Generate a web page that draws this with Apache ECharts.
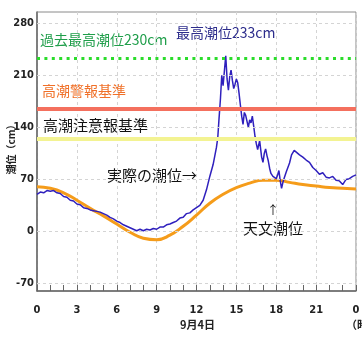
<!DOCTYPE html>
<html>
<head>
<meta charset="utf-8">
<script src="https://cdn.jsdelivr.net/npm/echarts@6/dist/echarts.min.js"></script>
<style>
  html, body { margin: 0; padding: 0; background: #fff; }
  #chart { width: 362px; height: 338px; }
</style>
</head>
<body>
<div id="chart"></div>
<script>
// astronomical tide (hourly)
var astroHours = [0, 1, 2, 3, 4, 5, 6, 7, 8, 9, 10, 11, 12, 13, 14, 15, 16, 17, 18, 19, 20, 21, 22, 23, 24];
var astroLevels = [60, 58, 52, 42, 31, 21, 10, -1, -9, -11, -5, 7, 22, 38, 50, 59, 65, 69, 69, 66, 63, 61, 59, 58, 57];

// observed tide
var actualHours = [
  0, 0.25, 0.5, 0.75, 1, 1.25, 1.5, 1.75, 2, 2.25, 2.5, 2.75, 3, 3.25, 3.5, 3.75,
  4, 4.25, 4.5, 4.75, 5, 5.25, 5.5, 5.75, 6, 6.25, 6.5, 6.75, 7, 7.25, 7.5, 7.75,
  8, 8.25, 8.5, 8.75, 9, 9.25, 9.5, 9.75, 10, 10.25, 10.5, 10.75, 11, 11.25, 11.5, 11.75,
  12, 12.25, 12.5, 12.75, 13, 13.25, 13.5, 13.6, 13.7, 13.8, 13.9, 14, 14.1, 14.2,
  14.3, 14.4, 14.5, 14.6, 14.7, 14.8, 14.9, 15, 15.1, 15.2, 15.3, 15.4, 15.5, 15.6,
  15.7, 15.8, 15.9, 16, 16.1, 16.2, 16.3, 16.4, 16.5, 16.6, 16.75, 16.9, 17, 17.1,
  17.2, 17.3, 17.4, 17.5, 17.6, 17.75, 18, 18.1, 18.2, 18.3, 18.4, 18.5, 18.6, 18.75,
  19, 19.15, 19.35, 19.5, 19.75, 20, 20.25, 20.5, 20.75, 21, 21.25, 21.5, 21.75,
  22, 22.25, 22.5, 22.75, 23, 23.25, 23.5, 23.75, 24
];
var actualLevels = [
  50, 53, 52, 55, 54, 55, 52, 51, 47, 46, 42, 41, 37, 36, 32, 31,
  29, 28, 27, 26, 24, 22, 19, 17, 14, 12, 9, 7, 5, 3, 1, 3,
  1, 3, 2, 4, 3, 6, 6, 9, 10, 12, 14, 18, 19, 24, 25, 29,
  32, 35, 42, 56, 74, 90, 113, 126, 153, 178, 210, 196, 216, 236,
  205, 190, 208, 217, 203, 192, 198, 205, 200, 186, 170, 155, 144, 160,
  156, 148, 140, 150, 146, 155, 142, 128, 118, 110, 122, 100, 93, 105,
  111, 102, 95, 85, 78, 74, 71, 76, 82, 68, 58, 66, 72, 80,
  92, 103, 109, 107, 103, 100, 96, 93, 86, 82, 77, 79, 73,
  72, 74, 69, 68, 63, 70, 71, 74, 76
];

var gridLevels = [-70, 0, 70, 140, 210, 280];
var recordLevel = 233;    // 過去最高潮位
var warningLevel = 165;   // 高潮警報基準
var advisoryLevel = 124;  // 高潮注意報基準

var cjk = '"Noto Sans CJK JP", "Noto Sans", sans-serif';
var num = '"DejaVu Sans Condensed", "Liberation Sans Narrow", "DejaVu Sans", sans-serif';

function pairs(xs, ys) {
  return xs.map(function (x, i) { return [x, ys[i]]; });
}

var chart = echarts.init(document.getElementById('chart'));

chart.setOption({
  animation: false,
  backgroundColor: '#fff',
  grid: {
    left: 37, right: 6, top: 12, bottom: 47,
    containLabel: false, outerBoundsMode: 'none',
    show: true, borderColor: '#8a8a8a', borderWidth: 1
  },
  xAxis: {
    type: 'value', min: 0, max: 24, interval: 3,
    axisLine: { show: true, onZero: false, lineStyle: { color: '#666', width: 1.5 } },
    axisTick: { show: true, inside: true, length: 6, lineStyle: { color: '#666' } },
    minorTick: { show: true, splitNumber: 3, length: 6, lineStyle: { color: '#666' } },
    axisLabel: {
      margin: 14, color: '#222', fontFamily: num, fontWeight: 'bold', fontSize: 11,
      formatter: function (v) { return v === 24 ? '0' : String(v); }
    },
    splitLine: { show: true, lineStyle: { color: '#d4d4d4', type: [3, 3] } }
  },
  yAxis: {
    type: 'value', min: -80, max: 295,
    axisLine: { show: true, lineStyle: { color: '#666', width: 1.5 } },
    axisTick: { show: false },
    axisLabel: {
      customValues: gridLevels, margin: 3, hideOverlap: false,
      color: '#222', fontFamily: num, fontWeight: 'bold', fontSize: 11
    },
    splitLine: { show: false }
  },
  series: [
    {
      type: 'line', data: [], silent: true, z: 1,
      markLine: {
        silent: true, symbol: 'none', label: { show: false },
        lineStyle: { color: '#d4d4d4', type: [3, 3], width: 1 },
        data: gridLevels.map(function (v) { return { yAxis: v }; })
      }
    },
    {
      type: 'line', data: [], silent: true, z: 2,
      markLine: {
        silent: true, symbol: 'none', label: { show: false },
        data: [
          { yAxis: recordLevel, lineStyle: { color: '#2bdc2b', width: 3, type: [3, 4.4] } },
          { yAxis: warningLevel, lineStyle: { color: '#f4705e', width: 4, type: 'solid' } },
          { yAxis: advisoryLevel, lineStyle: { color: '#f3f392', width: 4, type: 'solid' } }
        ]
      }
    },
    {
      name: '天文潮位', type: 'line', z: 3,
      data: pairs(astroHours, astroLevels),
      smooth: true, showSymbol: false,
      lineStyle: { color: '#f59c1a', width: 3 }
    },
    {
      name: '実際の潮位', type: 'line', z: 4,
      data: pairs(actualHours, actualLevels),
      showSymbol: false,
      lineStyle: { color: '#2f20bd', width: 1.5 }
    }
  ],
  graphic: [
    { type: 'text', x: 11, y: 147, rotation: Math.PI / 2,
      style: { text: '潮位（cm）', fill: '#222', font: 'bold 10px ' + cjk, align: 'center', verticalAlign: 'middle' } },
    { type: 'text', left: 40, top: 33, style: { text: '過去最高潮位230cm', fill: '#1f9e4a', font: '14px ' + cjk } },
    { type: 'text', left: 176, top: 26, style: { text: '最高潮位233cm', fill: '#2d2d8c', font: '14px ' + cjk } },
    { type: 'text', left: 42, top: 84, style: { text: '高潮警報基準', fill: '#f07028', font: '14px ' + cjk } },
    { type: 'text', left: 43, top: 118, style: { text: '高潮注意報基準', fill: '#111', font: '15px ' + cjk } },
    { type: 'text', left: 107, top: 168, style: { text: '実際の潮位→', fill: '#111', font: '15px ' + cjk } },
    { type: 'text', left: 267, top: 204, style: { text: '↑', fill: '#111', font: '12px ' + cjk } },
    { type: 'text', left: 243, top: 221, style: { text: '天文潮位', fill: '#111', font: '15px ' + cjk } },
    { type: 'text', left: 180, top: 319, style: { text: '9月4日', fill: '#222', font: 'bold 11px ' + cjk } },
    { type: 'text', left: 346, top: 319, style: { text: '（時）', fill: '#222', font: 'bold 11px ' + cjk } }
  ]
});
</script>
</body>
</html>
